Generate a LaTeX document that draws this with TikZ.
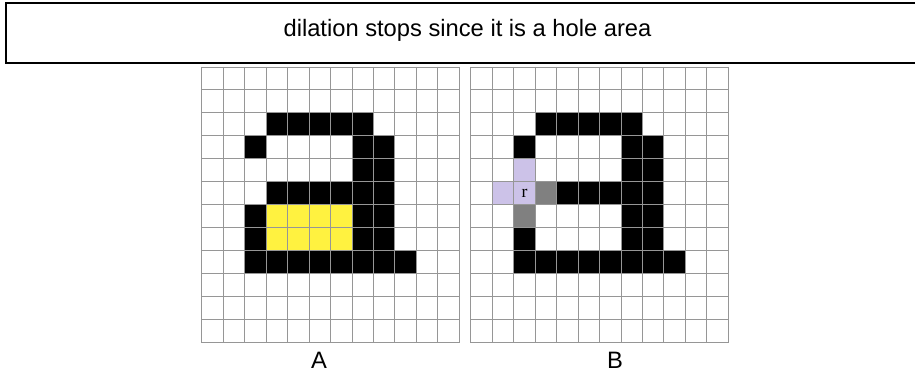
\documentclass[tikz,border=0pt]{standalone}
\usepackage{fontspec}
\setmainfont{Liberation Sans}
\newfontfamily\cellfont{Liberation Serif}
\usetikzlibrary{positioning}
\definecolor{HoleYellow}{RGB}{255,242,64}
\definecolor{SeedLilac}{RGB}{204,194,232}
\definecolor{EdgeGray}{RGB}{128,128,128}
\definecolor{LineGray}{RGB}{150,150,150}
\tikzset{
  blackcell/.style={fill=black},
  holecell/.style={fill=HoleYellow},
  seedcell/.style={fill=SeedLilac},
  edgecell/.style={fill=EdgeGray},
  gridline/.style={draw=LineGray, line width=0.55pt},
  caption/.style={font=\fontsize{13.5}{16}\selectfont, inner sep=0pt},
  titlebox/.style={draw, line width=1.1pt, inner sep=0pt, minimum width=18.46cm, minimum height=1.21cm},
}
\def\cw{0.429}
\def\ch{0.46}

\begin{document}
\begin{tikzpicture}[x=0.02cm, y=-0.02cm]
  \clip (0,0) rectangle (915,375);
  \node[titlebox] (box) at (467.5,33) {};
  \node[caption] (title) at (467.5,30) {dilation stops since it is a hole area};

  % grid A
  \begin{scope}[xshift=4.04cm, yshift=-1.34cm, x=\cw cm, y=-\ch cm]
    \foreach \c/\r in {3/2,4/2,5/2,6/2,7/2, 2/3,7/3,8/3, 7/4,8/4,
        3/5,4/5,5/5,6/5,7/5,8/5, 2/6,7/6,8/6, 2/7,7/7,8/7,
        2/8,3/8,4/8,5/8,6/8,7/8,8/8,9/8}
      \fill[blackcell] (\c,\r) rectangle +(1,1);
    \fill[holecell] (3,6) rectangle (7,8);
    \foreach \i in {0,...,12} {
      \draw[gridline] (\i,0) -- (\i,12);
      \draw[gridline] (0,\i) -- (12,\i);
    }
  \end{scope}
  \node[caption] (labelA) at (319,360) {A};

  % grid B
  \begin{scope}[xshift=9.42cm, yshift=-1.34cm, x=\cw cm, y=-\ch cm]
    \foreach \c/\r in {3/2,4/2,5/2,6/2,7/2, 2/3,7/3,8/3, 7/4,8/4,
        4/5,5/5,6/5,7/5,8/5, 7/6,8/6, 2/7,7/7,8/7,
        2/8,3/8,4/8,5/8,6/8,7/8,8/8,9/8}
      \fill[blackcell] (\c,\r) rectangle +(1,1);
    \foreach \c/\r in {2/4,1/5,2/5}
      \fill[seedcell] (\c,\r) rectangle +(1,1);
    \foreach \c/\r in {3/5,2/6}
      \fill[edgecell] (\c,\r) rectangle +(1,1);
    \foreach \i in {0,...,12} {
      \draw[gridline] (\i,0) -- (\i,12);
      \draw[gridline] (0,\i) -- (12,\i);
    }
    \node[font=\cellfont\fontsize{10}{12}\selectfont, inner sep=0pt] (seed) at (2.5,5.5) {r};
  \end{scope}
  \node[caption] (labelB) at (615,360) {B};
\end{tikzpicture}
\end{document}
